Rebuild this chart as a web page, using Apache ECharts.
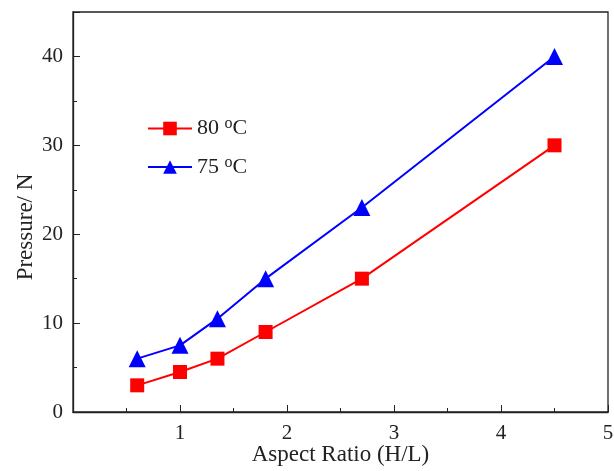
<!DOCTYPE html>
<html><head><meta charset="utf-8">
<script src="https://cdn.jsdelivr.net/npm/echarts@6/dist/echarts.min.js"></script>
<style>html,body{margin:0;padding:0;background:#fff}#c{width:614px;height:471px}</style>
</head><body><div id="c"></div>
<script>
const xValues = [0.6, 1.0, 1.35, 1.8, 2.7, 4.5];
const series80 = [3, 4.5, 6, 9, 15, 30];
const series75 = [6, 7.5, 10.5, 15, 23, 40];
const seriesNames = ['80 °C', '75 °C'];
const xLabel = 'Aspect Ratio (H/L)';
const yLabel = 'Pressure/ N';

const font = 'Liberation Serif';
const txt = '#222';
const chart = echarts.init(document.getElementById('c'));
chart.setOption({
  animation: false,
  backgroundColor: '#fff',
  grid: {left: 73, right: 6, top: 12, bottom: 59, containLabel: false, outerBoundsMode: 'none',
    show: true, borderColor: '#222', borderWidth: 1.3, backgroundColor: 'transparent'},
  legend: {
    left: 147, top: 116, orient: 'vertical', padding: 0, itemGap: 15, itemWidth: 44, itemHeight: 17,
    data: seriesNames,
    formatter: function (n) { return n.replace(' °C', ' {s|o}C'); },
    textStyle: {fontFamily: font, fontSize: 22, color: txt,
      rich: {s: {fontFamily: font, fontSize: 16, verticalAlign: 'top', padding: [0,0,9,0], color: txt}}}
  },
  xAxis: {
    type: 'value', min: 0, max: 5, interval: 1,
    name: xLabel, nameLocation: 'middle', nameGap: 31, nameMoveOverlap: false,
    nameTextStyle: {fontFamily: font, fontSize: 23, color: txt},
    axisLine: {lineStyle: {color: '#222', width: 1.3}},
    axisTick: {inside: true, length: 7, lineStyle: {color: '#222'}},
    minorTick: {show: true, splitNumber: 2, length: 4, lineStyle: {color: '#222'}},
    splitLine: {show: false},
    axisLabel: {fontFamily: font, fontSize: 21, color: txt, margin: 11,
      formatter: function (v) { return v === 0 ? '' : String(v); }}
  },
  yAxis: {
    type: 'value', min: 0, max: 45, interval: 10,
    name: yLabel, nameLocation: 'middle', nameGap: 36, nameMoveOverlap: false,
    nameTextStyle: {fontFamily: font, fontSize: 23, color: txt, padding: [0, 30, 0, 0]},
    axisLine: {show: true, lineStyle: {color: '#222', width: 1.3}},
    axisTick: {inside: true, length: 7, lineStyle: {color: '#222'}},
    minorTick: {show: true, splitNumber: 2, length: 4, lineStyle: {color: '#222'}},
    splitLine: {show: false},
    axisLabel: {fontFamily: font, fontSize: 21, color: txt, margin: 10, showMaxLabel: false,
      formatter: function (v) { return v > 40 ? '' : String(v); }}
  },
  series: [
    {name: seriesNames[0], type: 'line', data: xValues.map((x, i) => [x, series80[i]]),
      symbol: 'rect', symbolSize: 14, itemStyle: {color: '#ff0000'}, lineStyle: {color: '#ff0000', width: 2}},
    {name: seriesNames[1], type: 'line', data: xValues.map((x, i) => [x, series75[i]]),
      symbol: 'triangle', symbolSize: 17, itemStyle: {color: '#0000ff'}, lineStyle: {color: '#0000ff', width: 2}}
  ]
});
</script></body></html>
